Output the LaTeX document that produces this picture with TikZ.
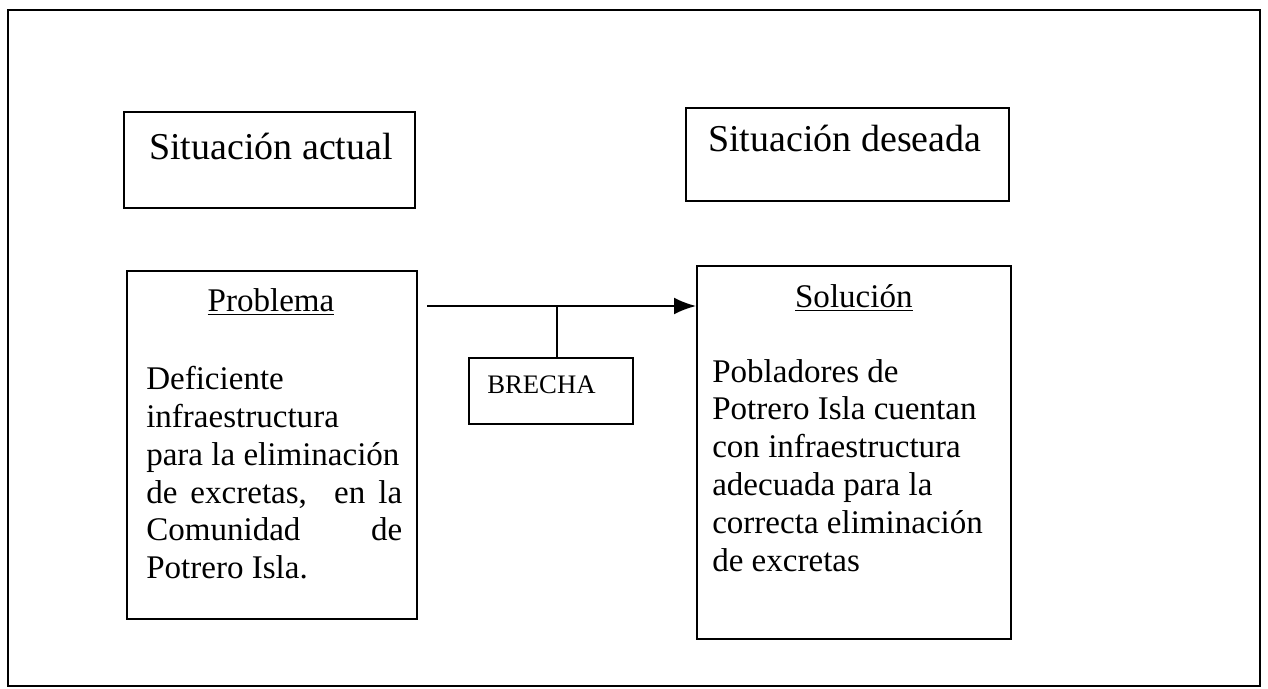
\documentclass[tikz,border=0pt]{standalone}
\usepackage{fontspec}
\setmainfont{Liberation Serif}
\usetikzlibrary{arrows.meta}

\begin{document}
\begin{tikzpicture}[box/.style={draw,line width=1.2pt,inner sep=0pt,anchor=north west},
    big/.style={font=\fontsize{27}{31}\selectfont,inner sep=0pt,anchor=base west},
    body/.style={font=\fontsize{23.5}{27}\selectfont,inner sep=0pt}]
    \useasboundingbox (0,0) rectangle (31.7,17.2);
    \draw[line width=0.8pt] (0.2,0.05) rectangle (31.5,16.95);
    \node[box,minimum width=7.275cm,minimum height=2.4cm] (actual) at (3.075,14.425) {};
    \node[big] (actualtxt) at (3.725,13.2) {Situación actual};
    \node[box,minimum width=8.075cm,minimum height=2.325cm] (deseada) at (17.125,14.525) {};
    \node[big] (deseadatxt) at (17.7,13.4) {Situación deseada};
    \node[box,minimum width=7.25cm,minimum height=8.7cm] (problema) at (3.15,10.45) {};
    \node[body,anchor=base] (problematit) at (6.775,9.4) {\underline{Problema}};
    \node[body,anchor=north west,text width=6.4cm,align=justify] (problematxt) at (3.65,8.06)
        {Deficiente\\ infraestructura\\ para la eliminación\\ de excretas, \ en la\linebreak Comunidad\hfill de\\ Potrero Isla.};
    \node[box,minimum width=7.85cm,minimum height=9.325cm] (solucion) at (17.4,10.575) {};
    \node[body,anchor=base] (soluciontit) at (solucion.north |- 0,9.5) {\underline{Solución}};
    \node[body,anchor=north west,text width=7.2cm,align=flush left] (soluciontxt) at (17.8,8.23)
        {Pobladores de\\ Potrero Isla cuentan\\ con infraestructura\\ adecuada para la\\ correcta eliminación\\ de excretas};
    \node[box,minimum width=4.1cm,minimum height=1.65cm] (brecha) at (11.7,8.275) {};
    \node[inner sep=0pt,anchor=base west,font=\fontsize{19}{22}\selectfont] (brechatxt) at (12.175,7.35) {BRECHA};
    \coordinate (gap) at (10.675,9.55);
    \draw[line width=1.2pt,-{Latex[length=0.55cm,width=0.42cm]}] (gap) -- (solucion.west |- gap);
    \draw[line width=1pt] ([xshift=0.15cm]brecha.north) -- ([xshift=0.15cm]brecha.north |- gap);
\end{tikzpicture}
\end{document}
